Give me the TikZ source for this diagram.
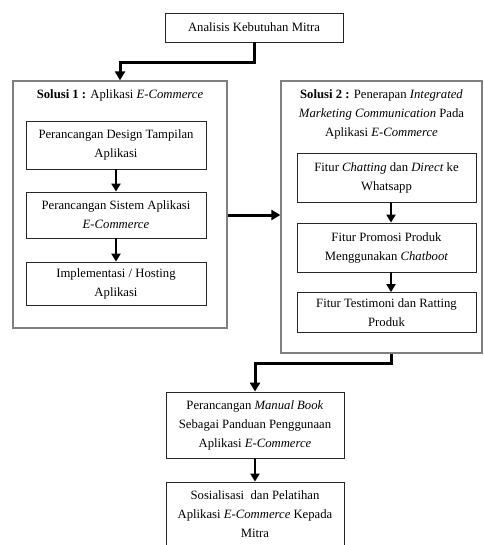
\documentclass[tikz,border=0pt]{standalone}
\usepackage{fontspec}
\setmainfont{Liberation Serif}
\usetikzlibrary{arrows.meta,calc}
\begin{document}
\begin{tikzpicture}[x=1pt,y=-1pt,
  txt/.style={font=\fontsize{12.7}{19}\selectfont, align=center, inner sep=0pt},
  box/.style={txt, draw=black!85, line width=0.8pt},
  outerbox/.style={draw=black!50, line width=1.3pt, inner sep=0pt},
  conn/.style={line width=3pt, -{Triangle[length=9pt,width=10pt]}},
  flow/.style={line width=2.6pt, -{Triangle[length=8pt,width=9pt]}}]
\useasboundingbox (0,0) rectangle (483,545);
% top
\node[box, minimum width=178pt, minimum height=29pt] (top) at (254,27.5) {Analisis Kebutuhan Mitra};
% solution 1
\node[outerbox, minimum width=214pt, minimum height=247pt] (sol1) at (120,204.5) {};
\node[txt] (t1) at (120,95) {\textbf{Solusi 1 :} Aplikasi \textit{E-Commerce}};
\node[box, minimum width=180pt, minimum height=48pt] (b1) at (116,145) {Perancangan Design Tampilan\\Aplikasi};
\node[box, minimum width=180pt, minimum height=46pt] (b2) at (116,215) {Perancangan Sistem Aplikasi\\\textit{E-Commerce}};
\node[box, minimum width=180pt, minimum height=43pt] (b3) at (116,283.5) {Implementasi / Hosting\\Aplikasi};
% solution 2
\node[outerbox, minimum width=201pt, minimum height=272pt] (sol2) at (381.5,217) {};
\node[txt] (t2) at (381.5,114) {\textbf{Solusi 2 :} Penerapan \textit{Integrated}\\\textit{Marketing Communication} Pada\\Aplikasi \textit{E-Commerce}};
\node[box, minimum width=179pt, minimum height=49pt] (c1) at (386.5,177.5) {Fitur \textit{Chatting} dan \textit{Direct} ke\\Whatsapp};
\node[box, minimum width=179pt, minimum height=49pt] (c2) at (386.5,247.5) {Fitur Promosi Produk\\Menggunakan \textit{Chatboot}};
\node[box, minimum width=179pt, minimum height=40pt] (c3) at (386.5,312.5) {Fitur Testimoni dan Ratting\\Produk};
% bottom
\node[box, minimum width=178pt, minimum height=66pt] (m) at (255,425) {Perancangan \textit{Manual Book}\\Sebagai Panduan Penggunaan\\Aplikasi \textit{E-Commerce}};
\node[box, minimum width=178pt, minimum height=64pt] (s) at (255,514) {Sosialisasi~ dan Pelatihan\\Aplikasi \textit{E-Commerce} Kepada\\Mitra};
% connectors
\coordinate (k) at (391,363);
\draw[conn] (top.south) -- ++(0,20) -| (sol1.north);
\draw[conn] (sol1.east |- b2) -- (sol2.west |- b2);
\draw[conn] (k |- sol2.south) -- (k) -| (m.north);
\draw[flow] (b1) -- (b2);
\draw[flow] (b2) -- (b3);
\draw[flow] (c1.south -| k) -- (c2.north -| k);
\draw[flow] (c2.south -| k) -- (c3.north -| k);
\draw[flow] (m) -- (s);
\end{tikzpicture}
\end{document}
